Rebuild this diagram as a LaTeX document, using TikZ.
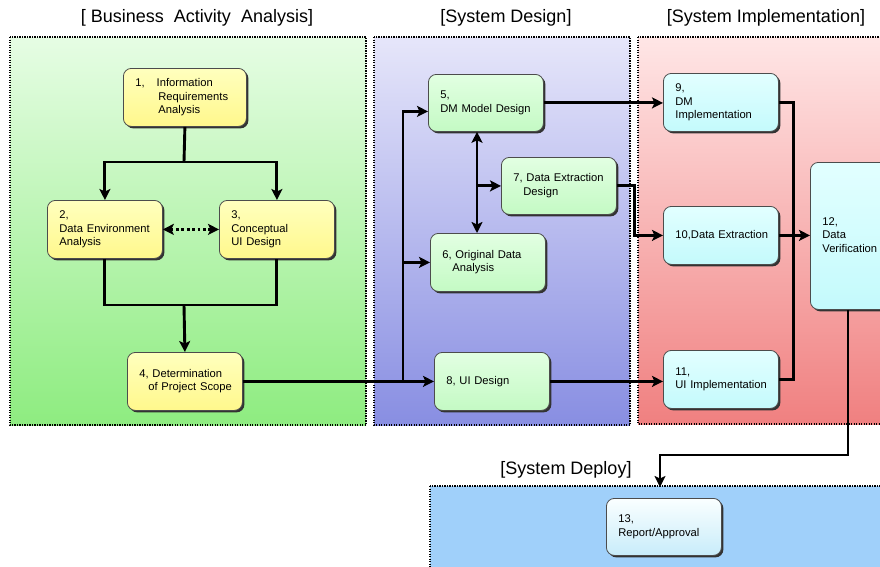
\documentclass[tikz,border=0pt]{standalone}
\usepackage{fontspec}
\setmainfont{Liberation Sans}
\usetikzlibrary{arrows.meta,shadows,calc}

\definecolor{grnTop}{RGB}{230,253,228}
\definecolor{grnBot}{RGB}{142,236,128}
\definecolor{bluTop}{RGB}{230,230,250}
\definecolor{bluBot}{RGB}{136,142,226}
\definecolor{redTop}{RGB}{255,230,230}
\definecolor{redBot}{RGB}{240,128,128}
\definecolor{depFill}{RGB}{160,208,250}
\definecolor{ylwTop}{RGB}{255,255,190}
\definecolor{ylwBot}{RGB}{255,248,140}
\definecolor{gbxTop}{RGB}{226,255,226}
\definecolor{gbxBot}{RGB}{196,250,196}
\definecolor{cbxTop}{RGB}{226,255,255}
\definecolor{cbxBot}{RGB}{196,250,252}
\definecolor{rptTop}{RGB}{250,255,255}
\definecolor{rptBot}{RGB}{200,236,250}

% box text: fixed lines that never wrap
\newcommand{\steplines}[1]{\begin{tabular}{@{}l@{}}#1\end{tabular}}

\tikzset{
  panel/.style={draw=black, line width=1.5pt, dash pattern=on 1.2pt off 1.3pt},
  ttl/.style={font=\fontsize{18}{20}\selectfont, inner sep=0pt},
  box/.style={draw=black!70, line width=0.8pt, rounded corners=8pt,
    anchor=north west, inner xsep=12pt, inner ysep=2pt,
    text width=91pt, align=left, minimum height=58pt,
    font=\fontsize{11.2}{13.5}\selectfont,
    drop shadow={shadow xshift=2pt, shadow yshift=-2pt, fill=black!80, opacity=1}},
  ylw/.style={box, top color=ylwTop, bottom color=ylwBot},
  gbx/.style={box, top color=gbxTop, bottom color=gbxBot},
  cbx/.style={box, top color=cbxTop, bottom color=cbxBot},
  link/.style={line width=2.9pt, draw=black},
  tip/.tip={Stealth[length=11pt,width=11pt,inset=2.5pt]},
  arr/.style={link, -tip},
  arrboth/.style={link, tip-tip},
  dotarr/.style={arrboth, dash pattern=on 2.8pt off 2.6pt}
}

\begin{document}
\begin{tikzpicture}[x=1pt,y=-1pt]
\useasboundingbox (0,0) rectangle (880,566);
\clip (0,0) rectangle (880,566);
\fill[white] (0,0) rectangle (880,566);

% phase panels
\shade[top color=grnTop, bottom color=grnBot] (10,37) rectangle (366,425);
\draw[panel] (10,37) rectangle (366,425);
\shade[top color=bluTop, bottom color=bluBot] (374,37) rectangle (630,425);
\draw[panel] (374,37) rectangle (630,425);
\shade[top color=redTop, bottom color=redBot] (638,37) rectangle (900,424);
\draw[panel] (638,37) rectangle (900,424);
\fill[depFill] (430,486) rectangle (900,590);
\draw[panel] (430,486) rectangle (900,590);

% phase titles
\node[ttl] (tBAA) at (197,18) {[ Business\ \ Activity\ \ Analysis]};
\node[ttl] (tSD) at (506,18) {[System Design]};
\node[ttl] (tSI) at (766,18) {[System Implementation]};
\node[ttl] (tDep) at (566,470) {[System Deploy]};

% steps
\node[ylw, text width=99pt] (n1) at (123,68) {\steplines{1,\hspace*{12pt}Information\\\hspace*{23pt}Requirements\\\hspace*{23pt}Analysis}};
\node[ylw] (n2) at (47,200) {\steplines{2,\\Data Environment\\Analysis}};
\node[ylw] (n3) at (219,200) {\steplines{3,\\Conceptual\\UI Design}};
\node[ylw] (n4) at (127,352) {\steplines{4, Determination\\\hspace*{9pt}of Project Scope}};

\node[gbx, minimum height=57pt] (n5) at (428,74) {\steplines{5,\\DM Model Design}};
\node[gbx, minimum height=57pt] (n7) at (501,157) {\steplines{7, Data Extraction\\\hspace*{10pt}Design}};
\node[gbx] (n6) at (430,233) {\steplines{6, Original Data\\\hspace*{10pt}Analysis}};
\node[gbx] (n8) at (434,352) {\steplines{8, UI Design}};

\node[cbx] (n9) at (663,73) {\steplines{9,\\DM\\Implementation}};
\node[cbx] (n10) at (663,206) {\steplines{10,Data Extraction}};
\node[cbx] (n11) at (663,350) {\steplines{11,\\UI Implementation}};
\node[cbx, minimum height=147pt] (n12) at (810,162) {\steplines{12,\\Data\\Verification}};

\node[box, top color=rptTop, bottom color=rptBot, minimum height=57pt] (n13) at (606,498) {\steplines{13,\\Report/Approval}};

% junction points
\coordinate (j1) at (184,162);
\coordinate (j2) at (184,305);
\coordinate (j3) at (403,381);
\coordinate (c56) at (477,0);
\coordinate (d1) at (848,455);
\coordinate (d2) at (660,487);

% business activity analysis flow
\draw[link] (n1.south) -- (j1);
\draw[arr] (j1) -| (n2.north);
\draw[arr] (j1) -| (n3.north);
\draw[dotarr] (n2.east) -- (n3.west);
\draw[link] (n2.south) |- (j2) -| (n3.south);
\draw[arr] (j2) -- (n4.north);

% into system design
\draw[arr] (n4.east) -- (n8.west);
\draw[arr] (j3) |- ($(n5.west)+(0,8.5)$);
\draw[arr] (j3 |- n6.west) -- (n6.west);
\draw[arrboth] (n5.south -| c56) -- (n6.north -| c56);
\draw[arr] (n7.west -| c56) -- (n7.west);

% into system implementation
\draw[arr] (n5.east) -- (n5.east -| n9.west);
\draw[arr] (n7.east) -- ++(18,0) |- (n10.west);
\draw[arr] (n8.east) -- (n8.east -| n11.west);
\draw[link] (n9.east) -- ++(15,0) |- (n11.east);
\draw[arr] (n10.east) -- (n10.east -| n12.west);

% into deployment
\draw[arr] (n12.south -| d1) -- (d1) -| (d2);
\end{tikzpicture}
\end{document}
